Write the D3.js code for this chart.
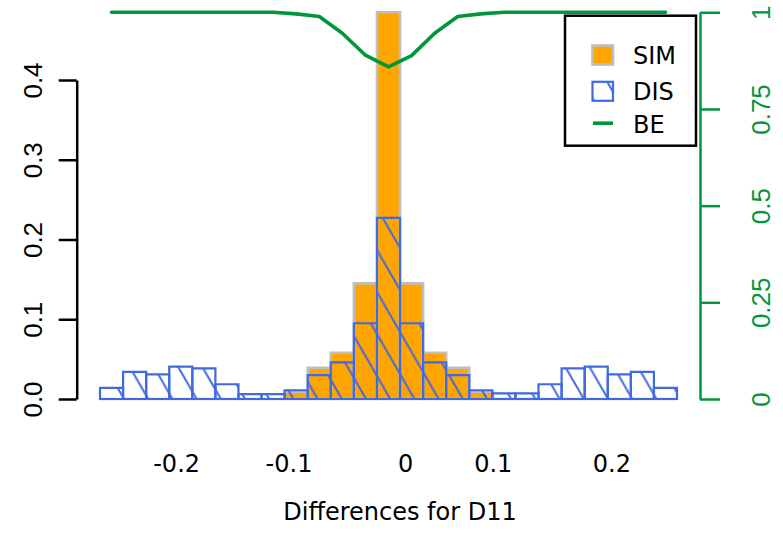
<!DOCTYPE html>
<html>
<head>
<meta charset="utf-8">
<script src="https://cdn.jsdelivr.net/npm/d3@7"></script>
<style>
  html, body { margin: 0; padding: 0; background: #fff; }
  svg { display: block; }
</style>
</head>
<body>
<svg id="chart" width="783" height="544"></svg>
<script>
// Histogram of differences for D11: similar (SIM) vs dissimilar (DIS) pairs,
// with the BE curve on a secondary axis.
const simValues = [0, 0, 0, 0, 0, 0, 0, 0, 0.009, 0.039, 0.058, 0.145, 0.485,
                   0.145, 0.058, 0.039, 0.009, 0, 0, 0, 0, 0, 0, 0, 0];
const disValues = [0.014, 0.034, 0.031, 0.0405, 0.0385, 0.0185, 0.006, 0.006, 0.011,
                   0.030, 0.046, 0.095, 0.227, 0.095, 0.046, 0.030, 0.011,
                   0.007, 0.007, 0.0185, 0.0385, 0.0405, 0.031, 0.034, 0.014];
const beValues = [1, 1, 1, 1, 1, 1, 1, 1, 0.996, 0.989, 0.946, 0.889, 0.859,
                  0.888, 0.946, 0.989, 0.996, 1, 1, 1, 1, 1, 1, 1, 1];
const xTickLabels = ["-0.2", "-0.1", "0", "0.1", "0.2"];
const xTickBins = [3.32, 8.19, 13.24, 17.04, 22.18];   // label positions along the bin axis
const yLeftTicks = [0, 0.1, 0.2, 0.3, 0.4];
const yRightTicks = [0, 0.25, 0.5, 0.75, 1];
const legendLabels = ["SIM", "DIS", "BE"];
const xTitle = "Differences for D11";

const COL_SIM = "#FFA500", COL_SIM_BORDER = "#BEBEBE";
const COL_DIS = "#4169E1";
const COL_BE = "#00963C";
const FONT = "'DejaVu Sans', sans-serif";
const AXIS_FONT = "'Liberation Sans', Arial, sans-serif";

const svg = d3.select("#chart");
svg.append("rect").attr("width", 783).attr("height", 544).attr("fill", "#fff");

const nBins = simValues.length;
const x = d3.scaleLinear().domain([0, nBins]).range([100, 677]);
const y = d3.scaleLinear().domain([0, 0.4]).range([399, 80]);
const yR = d3.scaleLinear().domain([0, 1]).range([399, 12.3]);

// Hatch patterns (lines at 60 degrees), anchored in page space
const defs = svg.append("defs");
const hW = 24.2, hH = 42;
function addHatch(id, offY) {
  const p = defs.append("pattern")
    .attr("id", id)
    .attr("patternUnits", "userSpaceOnUse")
    .attr("width", hW).attr("height", hH)
    .attr("x", 0).attr("y", offY);
  p.append("path")
    .attr("d", `M${-hW},${-hH}L${2 * hW},${2 * hH}M0,${-hH}L${2 * hW},${hH}M${-hW},0L${hW},${2 * hH}`)
    .attr("stroke", COL_DIS).attr("stroke-width", 2).attr("fill", "none");
}
addHatch("hatch", 15.7);
addHatch("hatchKey", 36);

function barPath(i, v, scale) {
  const x0 = x(i), x1 = x(i + 1), y0 = scale(0), y1 = scale(v);
  return `M${x0},${y0}V${y1}H${x1}V${y0}Z`;
}

// SIM bars
svg.append("g").selectAll("path")
  .data(simValues)
  .join("path")
  .attr("d", (d, i) => barPath(i, d, y))
  .attr("fill", COL_SIM)
  .attr("stroke", COL_SIM_BORDER)
  .attr("stroke-width", 2.6);

// DIS bars (hatched, no solid fill)
svg.append("g").selectAll("path")
  .data(disValues)
  .join("path")
  .attr("d", (d, i) => barPath(i, d, y))
  .attr("fill", "url(#hatch)")
  .attr("stroke", COL_DIS)
  .attr("stroke-width", 2.2);

// BE curve on the right axis
const line = d3.line()
  .x((d, i) => x(i + 0.5))
  .y(d => yR(d));
svg.append("path")
  .datum(beValues)
  .attr("d", line)
  .attr("fill", "none")
  .attr("stroke", COL_BE)
  .attr("stroke-width", 3.6)
  .attr("stroke-linejoin", "round")
  .attr("stroke-linecap", "round");

// Left axis
const gL = svg.append("g")
  .attr("transform", "translate(76.7,0)")
  .call(d3.axisLeft(y).tickValues(yLeftTicks).tickSize(18).tickSizeOuter(0)
    .tickFormat(d3.format(".1f")));
gL.select(".domain").attr("stroke", "#000").attr("stroke-width", 2.5);
gL.selectAll(".tick line").attr("stroke", "#000").attr("stroke-width", 2.5);
gL.selectAll(".tick text")
  .attr("x", null).attr("y", null).attr("dy", "0.36em")
  .attr("transform", "translate(-44,0) rotate(-90)")
  .attr("text-anchor", "middle")
  .attr("fill", "#000")
  .style("font-family", AXIS_FONT).style("font-size", "26px");

// Right axis
const gR = svg.append("g")
  .attr("transform", "translate(700,0)")
  .call(d3.axisRight(yR).tickValues(yRightTicks).tickSize(20).tickSizeOuter(0)
    .tickFormat(d => String(d)));
gR.select(".domain").attr("stroke", COL_BE).attr("stroke-width", 2.5);
gR.selectAll(".tick line").attr("stroke", COL_BE).attr("stroke-width", 2.5);
gR.selectAll(".tick text")
  .attr("x", null).attr("y", null).attr("dy", "0.36em")
  .attr("transform", "translate(61,0) rotate(-90)")
  .attr("text-anchor", "middle")
  .attr("fill", COL_BE)
  .style("font-family", AXIS_FONT).style("font-size", "26px");

// X tick labels (no axis line)
svg.append("g").selectAll("text")
  .data(xTickLabels)
  .join("text")
  .attr("x", (d, i) => x(xTickBins[i]))
  .attr("y", 471.7)
  .attr("text-anchor", "middle")
  .style("font-family", FONT).style("font-size", "24px")
  .text(d => d);

// X title
svg.append("text")
  .attr("x", 400).attr("y", 520)
  .attr("text-anchor", "middle")
  .style("font-family", FONT).style("font-size", "24px")
  .text(xTitle);

// Legend
const lg = svg.append("g");
lg.append("rect")
  .attr("x", 565).attr("y", 15.7).attr("width", 131).attr("height", 130)
  .attr("fill", "#fff").attr("stroke", "#000").attr("stroke-width", 2.5);
const rowY = [55, 91.3, 124.2];
lg.append("rect")
  .attr("x", 592.5).attr("y", rowY[0] - 9.5).attr("width", 20.5).attr("height", 19)
  .attr("fill", COL_SIM).attr("stroke", COL_SIM_BORDER).attr("stroke-width", 2.6);
lg.append("rect")
  .attr("x", 592.5).attr("y", rowY[1] - 9.5).attr("width", 20.5).attr("height", 19)
  .attr("fill", "url(#hatchKey)").attr("stroke", COL_DIS).attr("stroke-width", 2.2);
lg.append("line")
  .attr("x1", 593).attr("x2", 613).attr("y1", rowY[2] - 1).attr("y2", rowY[2] - 1)
  .attr("stroke", COL_BE).attr("stroke-width", 3.6);
lg.selectAll("text.key")
  .data(legendLabels)
  .join("text")
  .attr("class", "key")
  .attr("x", 633)
  .attr("y", (d, i) => rowY[i])
  .attr("dy", "0.36em")
  .style("font-family", FONT).style("font-size", "24px")
  .text(d => d);
</script>
</body>
</html>
